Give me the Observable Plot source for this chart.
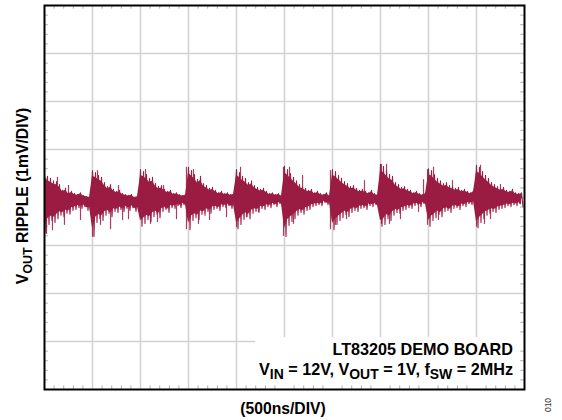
<!DOCTYPE html>
<html>
<head>
<meta charset="utf-8">
<script src="https://cdn.jsdelivr.net/npm/d3@7"></script>
<script src="https://cdn.jsdelivr.net/npm/@observablehq/plot@0.6"></script>
<style>
  html, body { margin: 0; padding: 0; background: #fff; }
  svg { display: block; }
</style>
</head>
<body>
<div id="chart"></div>
<script>
// Time axis: 500 ns/div, 10 divisions; voltage axis: 1 mV/div, 8 divisions
const xMajor = [0, 500, 1000, 1500, 2000, 2500, 3000, 3500, 4000, 4500, 5000];
const yMajor = [-4, -3, -2, -1, 0, 1, 2, 3, 4];
const sampleStepNs = 31.25;

// Upper envelope of the ripple trace (mV), one value per sample
const rippleHigh = [
  0.52, 0.44, 0.40, 0.35, 0.33, 0.27, 0.15, 0.19, 0.10, 0.13, 0.08, 0.06, 0.10, 0.04, 0.02, 0.00,
  0.56, 0.52, 0.46, 0.42, 0.31, 0.23, 0.27, 0.17, 0.13, 0.15, 0.08, 0.06, 0.04, 0.06, 0.00, 0.02,
  0.58, 0.54, 0.48, 0.40, 0.42, 0.29, 0.23, 0.25, 0.17, 0.13, 0.15, 0.08, 0.10, 0.06, 0.04, 0.06,
  0.63, 0.56, 0.48, 0.38, 0.44, 0.29, 0.25, 0.19, 0.21, 0.15, 0.10, 0.13, 0.08, 0.10, 0.06, 0.08,
  0.58, 0.52, 0.44, 0.40, 0.31, 0.35, 0.25, 0.21, 0.17, 0.19, 0.13, 0.08, 0.10, 0.06, 0.08, 0.04,
  0.65, 0.58, 0.50, 0.42, 0.35, 0.27, 0.23, 0.19, 0.15, 0.17, 0.10, 0.13, 0.08, 0.06, 0.10, 0.04,
  0.58, 0.54, 0.46, 0.40, 0.33, 0.29, 0.23, 0.25, 0.19, 0.15, 0.17, 0.13, 0.10, 0.15, 0.08, 0.06,
  0.69, 0.65, 0.56, 0.48, 0.44, 0.31, 0.27, 0.21, 0.23, 0.17, 0.15, 0.10, 0.13, 0.08, 0.06, 0.10,
  0.60, 0.56, 0.48, 0.40, 0.35, 0.29, 0.31, 0.25, 0.23, 0.19, 0.21, 0.15, 0.17, 0.13, 0.10, 0.15,
  0.67, 0.63, 0.54, 0.46, 0.40, 0.31, 0.27, 0.23, 0.19, 0.21, 0.15, 0.13, 0.17, 0.10, 0.08, 0.10
];

// Lower envelope of the ripple trace (mV), one value per sample
const rippleLow = [
  -0.73, -0.56, -0.48, -0.52, -0.44, -0.37, -0.40, -0.33, -0.35, -0.27, -0.25, -0.21, -0.23, -0.19, -0.27, -0.25,
  -0.81, -0.52, -0.44, -0.48, -0.37, -0.33, -0.40, -0.29, -0.31, -0.25, -0.29, -0.23, -0.27, -0.21, -0.29, -0.25,
  -0.60, -0.54, -0.46, -0.50, -0.40, -0.35, -0.42, -0.29, -0.25, -0.31, -0.21, -0.23, -0.17, -0.21, -0.15, -0.19,
  -0.67, -0.48, -0.42, -0.46, -0.35, -0.37, -0.29, -0.33, -0.25, -0.23, -0.27, -0.19, -0.21, -0.17, -0.23, -0.19,
  -0.65, -0.56, -0.46, -0.40, -0.44, -0.33, -0.29, -0.31, -0.23, -0.25, -0.19, -0.21, -0.15, -0.19, -0.13, -0.17,
  -0.81, -0.58, -0.50, -0.44, -0.37, -0.31, -0.35, -0.27, -0.25, -0.19, -0.17, -0.15, -0.17, -0.10, -0.15, -0.13,
  -0.67, -0.56, -0.48, -0.42, -0.35, -0.40, -0.31, -0.27, -0.29, -0.23, -0.21, -0.25, -0.17, -0.19, -0.15, -0.21,
  -0.60, -0.56, -0.44, -0.48, -0.37, -0.31, -0.33, -0.27, -0.25, -0.21, -0.23, -0.17, -0.15, -0.19, -0.13, -0.17,
  -0.60, -0.48, -0.42, -0.35, -0.40, -0.29, -0.27, -0.31, -0.23, -0.21, -0.25, -0.17, -0.19, -0.13, -0.15, -0.10,
  -0.63, -0.52, -0.44, -0.37, -0.33, -0.29, -0.31, -0.25, -0.23, -0.21, -0.17, -0.19, -0.15, -0.17, -0.13, -0.19
];

// Isolated spikes: time (ns) and peak value (mV)
const spikeTimes = [
  21, 83, 135, 208, 250, 375, 500, 500, 552, 583, 688, 771, 813, 875,
  1052, 1104, 1177, 1240, 1375, 1479, 1479, 1552, 1604, 1719, 1896,
  2000, 2000, 2042, 2104, 2229, 2490, 2490, 2552, 2594, 2688,
  2979, 2979, 3031, 3146, 3333, 3510, 3510, 3563, 3594, 3708, 3896, 3948,
  3990, 3990, 4052, 4104, 4250, 4500, 4542, 4583, 4646, 4750
];
const spikeValues = [
  -0.77, -0.69, 0.42, -0.58, 0.25, -0.48, -0.83, 0.52, 0.56, -0.58, -0.67, 0.25, -0.48, -0.46,
  0.58, -0.56, -0.52, 0.25, -0.46, 0.63, -0.67, 0.58, -0.56, -0.48, -0.42,
  -0.63, 0.56, 0.63, -0.42, -0.31, -0.81, 0.63, 0.63, -0.56, 0.46,
  0.56, -0.67, -0.58, -0.46, 0.35, 0.69, -0.56, 0.69, -0.56, -0.46, -0.31, 0.37,
  -0.58, 0.58, 0.63, -0.48, 0.35, -0.62, 0.67, -0.56, -0.46, 0.27
];

const traceColor = "#9b1c43";

// Envelope table and oscilloscope trace (alternating upper/lower within each sample)
const envelope = rippleHigh.map((h, i) => ({t: i * sampleStepNs, hi: h, lo: rippleLow[i]}));
const trace = [];
envelope.forEach(d => {
  trace.push({t: d.t, v: d.hi});
  trace.push({t: d.t + sampleStepNs / 2, v: d.lo});
});
const spikes = spikeTimes.map((t, i) => ({t, v: spikeValues[i]}));

// minor ticks: 5 per division
const xMinor = d3.range(0, 5000.1, 100).filter(v => v % 500 !== 0);
const yMinor = d3.range(-4, 4.01, 0.2).map(v => +v.toFixed(1)).filter(v => Math.abs(v % 1) > 1e-6);
const tickLenX = 0.075;  // mV
const tickLenY = 40;     // ns

const svg = Plot.plot({
  width: 562,
  height: 420,
  marginLeft: 44,
  marginRight: 38,
  marginTop: 5,
  marginBottom: 31,
  x: {domain: [0, 5000], axis: null},
  y: {domain: [-4, 4], axis: null},
  marks: [
    Plot.ruleX(xMajor.slice(1, -1), {stroke: "#d2d2d2", strokeWidth: 1.5}),
    Plot.ruleY(yMajor.slice(1, -1), {stroke: "#d2d2d2", strokeWidth: 1.5}),
    // white label background
    Plot.rect([{x1: 2200, x2: 5000, y1: -4, y2: -2.92}], {x1: "x1", x2: "x2", y1: "y1", y2: "y2", fill: "white"}),
    // minor ticks on all four sides, pointing inward
    Plot.ruleX(xMinor, {y1: -4, y2: -4 + tickLenX, stroke: "#b0b0b0", strokeWidth: 1}),
    Plot.ruleX(xMinor, {y1: 4, y2: 4 - tickLenX, stroke: "#b0b0b0", strokeWidth: 1}),
    Plot.ruleY(yMinor, {x1: 0, x2: tickLenY, stroke: "#b0b0b0", strokeWidth: 1}),
    Plot.ruleY(yMinor, {x1: 5000, x2: 5000 - tickLenY, stroke: "#b0b0b0", strokeWidth: 1}),
    Plot.areaY(envelope, {x: "t", y1: d => d.lo * 0.8, y2: d => d.hi * 0.8, fill: traceColor}),
    Plot.lineY(trace, {x: "t", y: "v", stroke: traceColor, strokeWidth: 1.1}),
    Plot.ruleX(spikes, {x: "t", y1: 0, y2: "v", stroke: traceColor, strokeWidth: 1.2, strokeOpacity: 0.85}),
    Plot.frame({stroke: "black", strokeWidth: 2})
  ]
});

const s = d3.select(svg);
s.style("font-family", "'Liberation Sans', Arial, sans-serif");

function addText(x, y, parts, opts = {}) {
  const size = opts.size || 15.7;
  const subScale = opts.subScale || 0.8;
  const t = s.append("text")
    .attr("x", x).attr("y", y)
    .attr("text-anchor", opts.anchor || "start")
    .attr("font-size", size)
    .attr("font-weight", "bold")
    .attr("fill", "black");
  if (opts.transform) t.attr("transform", opts.transform);
  let shift = 0;
  parts.forEach(p => {
    const sp = t.append("tspan");
    if (typeof p === "string") {
      sp.attr("font-size", size).attr("dy", -shift).text(p);
      shift = 0;
    } else {
      sp.attr("font-size", size * subScale).attr("dy", 3.5).text(p.sub);
      shift = 3.5;
    }
  });
  return t;
}

addText(513, 355, ["LT83205 DEMO BOARD"], {anchor: "end", size: 16.2});
addText(513, 375, ["V", {sub: "IN"}, " = 12V, V", {sub: "OUT"}, " = 1V, f", {sub: "SW"}, " = 2MHz"], {anchor: "end", size: 16.2, subScale: 0.86});
addText(283, 414, ["(500ns/DIV)"], {anchor: "middle"});
addText(0, 0, ["V", {sub: "OUT"}, " RIPPLE (1mV/DIV)"], {anchor: "middle", transform: "translate(28,196) rotate(-90)"});
s.append("text").attr("transform", "translate(551,405) rotate(-90)")
  .attr("text-anchor", "middle").attr("font-size", 8.5).attr("fill", "#333").text("010");

document.getElementById("chart").appendChild(svg);
</script>
</body>
</html>
